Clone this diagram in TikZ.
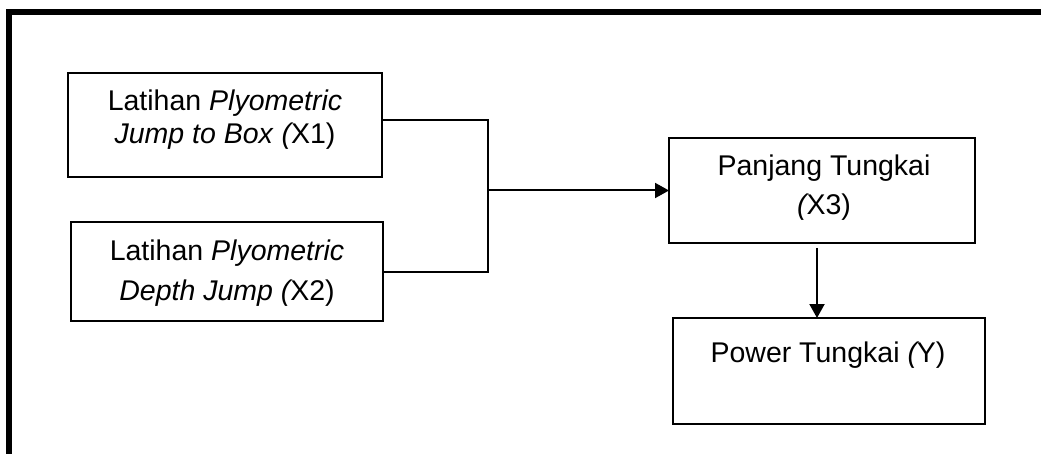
\documentclass[tikz,border=0pt]{standalone}
\usepackage{fontspec}
\setmainfont{Liberation Sans}
\usetikzlibrary{arrows.meta,calc}
\newcommand{\ipar}{\textit{(}\kern-2.5pt}
\begin{document}
\begin{tikzpicture}[x=1pt,y=-1pt,
  box/.style={draw=black,line width=2.5pt,rectangle,inner sep=0pt,outer sep=0pt},
  txt/.style={align=center,inner sep=0pt,text=black},
  conn/.style={line width=2pt},
  arr/.style={line width=2pt,-{Triangle[length=14pt,width=15pt]}}]
\useasboundingbox (0,0) rectangle (1041,454);
\begin{scope}
  \clip (0,0) rectangle (1041,454);
  \draw[line width=5.5pt] (9,12) rectangle (1070,480);
\end{scope}
% boxes
\node[box,minimum width=314pt,minimum height=104pt] (b1) at (225,125) {};
\node[box,minimum width=312pt,minimum height=99pt] (b2) at (227,271.5) {};
\node[box,minimum width=306pt,minimum height=105pt] (b3) at (822,190.5) {};
\node[box,minimum width=312pt,minimum height=106pt] (b4) at (829,371) {};
% texts
\node[txt,font=\fontsize{28.5}{33}\selectfont] (t1) at (225,120)
  {Latihan \textit{Plyometric}\\\textit{Jump to Box }\ipar X1)};
\node[txt,font=\fontsize{28.5}{40}\selectfont] (t2) at (227,273)
  {Latihan \textit{Plyometric}\\\textit{Depth Jump }\ipar X2)};
\node[txt,font=\fontsize{28.5}{39}\selectfont] (t3) at (824,187.5)
  {Panjang Tungkai\\\ipar X3)};
\node[txt,font=\fontsize{28.5}{33}\selectfont,anchor=base] (t4) at (828,362)
  {Power Tungkai \ipar Y)};
% connectors
\coordinate (jt) at (488,120);
\coordinate (jb) at (488,272);
\coordinate (jm) at (488,190.5);
\draw[conn] ([yshift=5pt]b1.east) -- (jt) -- (jb) -- (b2.east |- jb);
\draw[arr] (jm) -- (b3.west);
\coordinate (a1) at ($(b3.south)+(-5,5)$);
\draw[arr] (a1) -- (a1 |- b4.north);
\end{tikzpicture}
\end{document}
